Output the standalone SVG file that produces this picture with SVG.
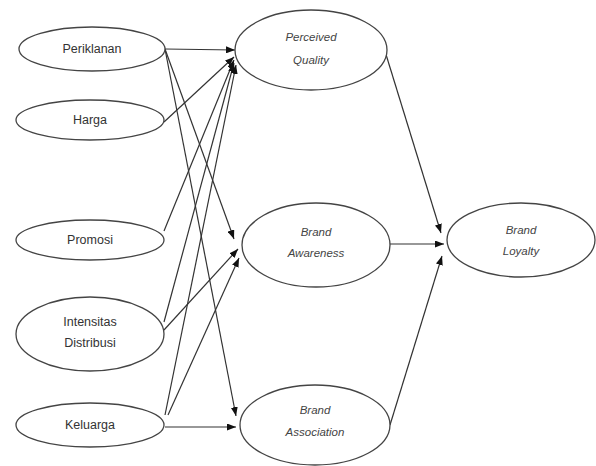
<svg xmlns="http://www.w3.org/2000/svg" width="596" height="466" viewBox="0 0 596 466">
<defs>
<marker id="ah" markerWidth="9" markerHeight="7" refX="9" refY="3.5" orient="auto" markerUnits="userSpaceOnUse">
<path d="M0,0 L9,3.5 L0,7 Z" fill="#111"/>
</marker>
<style>
.n ellipse{fill:#fff;stroke:#444;stroke-width:1.3}
.t{font-family:"Liberation Sans",Arial,sans-serif;font-size:12.5px;fill:#333;text-anchor:middle}
.i{font-family:"Liberation Sans",Arial,sans-serif;font-size:11.5px;font-style:italic;fill:#444;text-anchor:middle}
#edges line{stroke:#333;stroke-width:1.2;marker-end:url(#ah)}
</style>
</defs>
<rect width="596" height="466" fill="#fff"/>
<g id="edges">
<line x1="165" y1="49" x2="235" y2="50"/>
<line x1="165" y1="49" x2="234" y2="239"/>
<line x1="165" y1="49" x2="236" y2="416"/>
<line x1="164" y1="122" x2="234" y2="57"/>
<line x1="164" y1="231" x2="234" y2="60"/>
<line x1="164" y1="322" x2="234" y2="63"/>
<line x1="164" y1="330" x2="238" y2="249"/>
<line x1="165" y1="415" x2="236" y2="65"/>
<line x1="168" y1="415" x2="239" y2="258"/>
<line x1="165" y1="427" x2="236" y2="427"/>
<line x1="384" y1="48" x2="441" y2="233"/>
<line x1="390" y1="244" x2="444" y2="244"/>
<line x1="390" y1="425" x2="442" y2="256"/>
</g>
<g id="periklanan" class="n"><ellipse cx="92" cy="49" rx="73" ry="22"/><text class="t" x="92" y="53">Periklanan</text></g>
<g id="harga" class="n"><ellipse cx="90" cy="120" rx="74" ry="20"/><text class="t" x="90" y="124">Harga</text></g>
<g id="promosi" class="n"><ellipse cx="90" cy="240" rx="74" ry="20"/><text class="t" x="90" y="244">Promosi</text></g>
<g id="intensitas" class="n"><ellipse cx="90" cy="334" rx="74" ry="37"/><text class="t" x="90" y="326">Intensitas</text><text class="t" x="90" y="347">Distribusi</text></g>
<g id="keluarga" class="n"><ellipse cx="90" cy="425" rx="74" ry="22"/><text class="t" x="90" y="429">Keluarga</text></g>
<g id="perceived" class="n"><ellipse cx="311" cy="50" rx="76" ry="40"/><text class="i" x="311" y="41">Perceived</text><text class="i" x="311" y="64">Quality</text></g>
<g id="awareness" class="n"><ellipse cx="316" cy="245" rx="74" ry="42"/><text class="i" x="316" y="236">Brand</text><text class="i" x="316" y="257">Awareness</text></g>
<g id="association" class="n"><ellipse cx="315" cy="425" rx="75" ry="40"/><text class="i" x="315" y="414">Brand</text><text class="i" x="315" y="436">Association</text></g>
<g id="loyalty" class="n"><ellipse cx="521" cy="240" rx="74" ry="37"/><text class="i" x="521" y="234">Brand</text><text class="i" x="521" y="255">Loyalty</text></g>
</svg>
